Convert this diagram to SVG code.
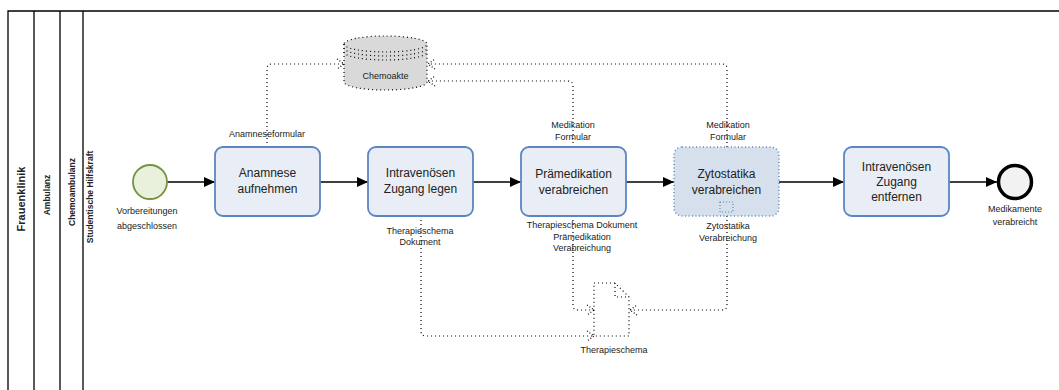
<svg xmlns="http://www.w3.org/2000/svg" width="1059" height="390" viewBox="0 0 1059 390">
<style>
text{font-family:"Liberation Sans",Arial,sans-serif;fill:#222}
.lane{stroke:#000;stroke-width:1.3;fill:none}
.lt{font-weight:bold;font-size:8.5px;text-anchor:middle}
.task{fill:#e9eef6;stroke:#5c86c0;stroke-width:1.8}
.tt{font-size:12px;text-anchor:middle}
.lbl{font-size:9px;text-anchor:middle}
.seq{stroke:#000;stroke-width:1.6;fill:none;marker-end:url(#ah)}
.da{stroke:#000;stroke-width:1.2;stroke-dasharray:1 3;fill:none;marker-end:url(#oh)}
.dot{stroke:#000;stroke-width:1.2;stroke-dasharray:1 3}
</style>
<defs>
<marker id="ah" markerUnits="userSpaceOnUse" markerWidth="11" markerHeight="10" refX="11" refY="5" orient="auto"><path d="M0,0 L11,5 L0,10 z" fill="#000"/></marker>
<marker id="oh" markerUnits="userSpaceOnUse" markerWidth="10" markerHeight="12" refX="8" refY="6" orient="auto"><path d="M1,1 L8,6 L1,11" fill="none" stroke="#000" stroke-width="1.2" stroke-dasharray="1 2"/></marker>
</defs>
<rect width="1059" height="390" fill="#fff"/>
<g id="pool">
<path class="lane" d="M1059,11 H8 V390 M34,11 V390 M60,11 V390 M83,11 V390"/>
<text transform="translate(25,199) rotate(-90)" style="font-weight:bold;font-size:11px;text-anchor:middle">Frauenklinik</text>
<text class="lt" transform="translate(50,195) rotate(-90)">Ambulanz</text>
<text class="lt" transform="translate(75,192) rotate(-90)">Chemoambulanz</text>
<text class="lt" transform="translate(93,197) rotate(-90)">Studentische Hilfskraft</text>
</g>
<g id="connectors">
<path class="seq" d="M167,182 H215"/>
<path class="seq" d="M320,182 H368"/>
<path class="seq" d="M473,182 H521"/>
<path class="seq" d="M626,182 H674"/>
<path class="seq" d="M779,182 H844"/>
<path class="seq" d="M949,182 H997"/>
<path class="da" d="M267,147 V69 Q267,64 272,64 H344"/>
<path class="da" d="M727,147 V69 Q727,64 722,64 H428"/>
<path class="da" d="M573,147 V86 Q573,81 568,81 H428"/>
<path class="da" d="M421,216 V331 Q421,336 426,336 H594"/>
<path class="da" d="M573,216 V305 Q573,310 578,310 H594"/>
<path class="da" d="M727,216 V305 Q727,310 722,310 H630"/>
<text class="lbl" x="267" y="137">Anamneseformular</text>
<text class="lbl" x="573" y="128">Medikation</text>
<text class="lbl" x="573" y="140">Formular</text>
<text class="lbl" x="728" y="128">Medikation</text>
<text class="lbl" x="728" y="140">Formular</text>
<text class="lbl" x="420" y="234">Therapieschema</text>
<text class="lbl" x="420" y="245">Dokument</text>
<text class="lbl" x="582" y="228">Therapieschema Dokument</text>
<text class="lbl" x="582" y="240">Prämedikation</text>
<text class="lbl" x="582" y="251">Verabreichung</text>
<text class="lbl" x="728" y="229">Zytostatika</text>
<text class="lbl" x="728" y="241">Verabreichung</text>
</g>
<g id="start">
<circle cx="150" cy="182" r="17" fill="#e9f1dd" stroke="#76923c" stroke-width="1.8"/>
<text class="lbl" x="147" y="214">Vorbereitungen</text>
<text class="lbl" x="147" y="229">abgeschlossen</text>
</g>
<g id="task1">
<rect class="task" x="215" y="147" width="105" height="69" rx="8"/>
<text class="tt" x="267.5" y="177">Anamnese</text>
<text class="tt" x="267.5" y="193">aufnehmen</text>
</g>
<g id="task2">
<rect class="task" x="368" y="147" width="105" height="69" rx="8"/>
<text class="tt" x="420.5" y="177">Intravenösen</text>
<text class="tt" x="420.5" y="193">Zugang legen</text>
</g>
<g id="task3">
<rect class="task" x="521" y="147" width="105" height="69" rx="8"/>
<text class="tt" x="573.5" y="178">Prämedikation</text>
<text class="tt" x="573.5" y="194">verabreichen</text>
</g>
<g id="task4">
<rect x="674" y="147" width="105" height="69" rx="8" fill="#d6e0ed" stroke="#5c86c0" stroke-width="1.5" stroke-dasharray="1 2.5"/>
<rect x="720" y="202" width="13" height="10" fill="none" stroke="#5c86c0" stroke-width="1.2" stroke-dasharray="1 2"/>
<text class="tt" x="726.5" y="178">Zytostatika</text>
<text class="tt" x="726.5" y="194">verabreichen</text>
</g>
<g id="task5">
<rect class="task" x="844" y="147" width="105" height="69" rx="8"/>
<text class="tt" x="896.5" y="171">Intravenösen</text>
<text class="tt" x="896.5" y="186">Zugang</text>
<text class="tt" x="896.5" y="201">entfernen</text>
</g>
<g id="end">
<circle cx="1015" cy="182" r="16.5" fill="#f2f2f2" stroke="#000" stroke-width="3.5"/>
<text class="lbl" x="1015" y="212">Medikamente</text>
<text class="lbl" x="1015" y="225">verabreicht</text>
</g>
<g id="chemoakte">
<path d="M344,44 V82 A41.5,8 0 0 0 427,82 V44 A41.5,8 0 0 0 344,44 Z" fill="#d9d9d9" class="dot"/>
<path d="M344,44 A41.5,8 0 0 0 427,44 M344,48 A41.5,8 0 0 0 427,48 M344,52 A41.5,8 0 0 0 427,52" fill="none" class="dot"/>
<text class="lbl" x="385.5" y="79">Chemoakte</text>
</g>
<g id="therapieschema">
<path d="M594,283 H615 L629,297 V336 H594 Z" fill="#fff" class="dot"/>
<path d="M615,283 V297 H629" fill="none" class="dot"/>
<text class="lbl" x="614" y="353">Therapieschema</text>
</g>
</svg>
